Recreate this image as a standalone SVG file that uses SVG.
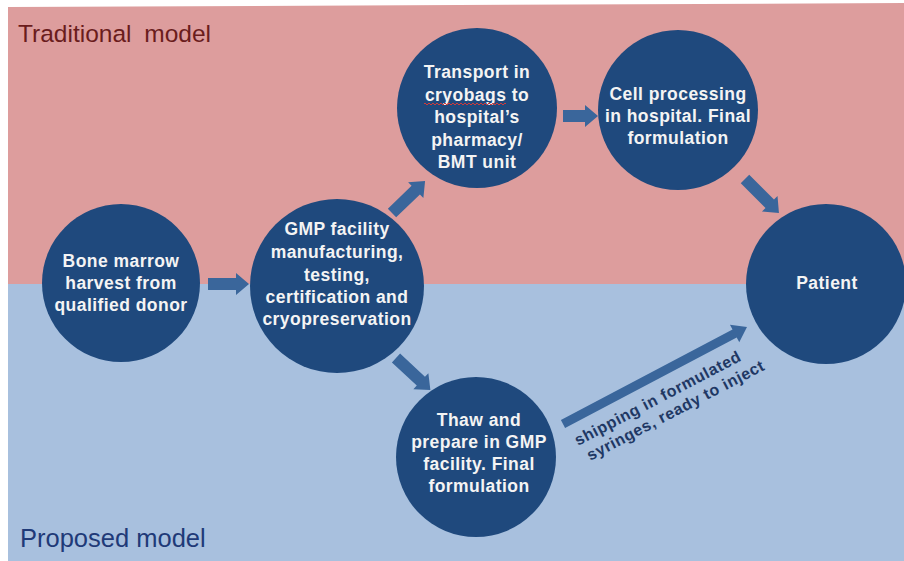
<svg xmlns="http://www.w3.org/2000/svg" width="904" height="561" viewBox="0 0 904 561">
  <defs>
    <style>
      .node { fill: #1f497d; }
      .ntext { font-family: "Liberation Sans", Arial, sans-serif; font-weight: bold; font-size: 17.5px; fill: #f4f4f4; text-anchor: middle; letter-spacing: 0.45px; }
      .arrow { fill: #3a669b; }
      .band-label { font-family: "Liberation Sans", Arial, sans-serif; }
      .ship { font-family: "Liberation Sans", Arial, sans-serif; font-weight: bold; font-size: 16px; fill: #1f3864; letter-spacing: 0.6px; }
    </style>
  </defs>

  <!-- backdrop: two model bands -->
  <rect x="0" y="0" width="904" height="561" fill="#ffffff"/>
  <polygon points="8,7 904,3 904,285 8,284" fill="#dd9d9d"/>
  <rect x="8" y="284" width="896" height="277" fill="#a8c0de"/>

  <text class="band-label" x="18" y="42" font-size="24.5" fill="#6a1c1c" word-spacing="6">Traditional model</text>
  <text class="band-label" x="20" y="547" font-size="25.5" fill="#1f3a78">Proposed model</text>

  <!-- connectors -->
  <g id="connectors">
    <path class="arrow" transform="translate(208,284)" d="M0,-6 H28 V-11 L41,0 L28,11 V6 H0 Z"/>
    <path class="arrow" transform="translate(392,213) rotate(-44)" d="M0,-6 H33 V-11 L46,0 L33,11 V6 H0 Z"/>
    <path class="arrow" transform="translate(563,116)" d="M0,-6 H22 V-11 L35,0 L22,11 V6 H0 Z"/>
    <path class="arrow" transform="translate(745,179) rotate(45)" d="M0,-6 H35 V-11 L48,0 L35,11 V6 H0 Z"/>
    <path class="arrow" transform="translate(396,358) rotate(43)" d="M0,-6 H34 V-11 L47,0 L34,11 V6 H0 Z"/>
    <path class="arrow" transform="translate(563,424) rotate(-27.8)" d="M0,-4.5 H194 V-10 L208,0 L194,10 V4.5 H0 Z"/>
    <g transform="translate(578,446) rotate(-27.6)">
      <text class="ship" x="0" y="0">shipping in formulated</text>
      <text class="ship" x="4" y="19">syringes, ready to inject</text>
    </g>
  </g>

  <!-- nodes -->
  <g id="bone-marrow">
    <circle class="node" cx="121" cy="283" r="79"/>
    <text class="ntext" x="121" y="267">Bone marrow</text>
    <text class="ntext" x="121" y="289">harvest from</text>
    <text class="ntext" x="121" y="311">qualified donor</text>
  </g>

  <g id="gmp-facility">
    <circle class="node" cx="337" cy="286" r="87"/>
    <text class="ntext" x="337" y="235">GMP facility</text>
    <text class="ntext" x="337" y="258">manufacturing,</text>
    <text class="ntext" x="337" y="281">testing,</text>
    <text class="ntext" x="337" y="303">certification and</text>
    <text class="ntext" x="337" y="325">cryopreservation</text>
  </g>

  <g id="transport">
    <circle class="node" cx="477" cy="108" r="80"/>
    <text class="ntext" x="477" y="78">Transport in</text>
    <text class="ntext" x="477" y="101">cryobags to</text>
    <text class="ntext" x="477" y="123">hospital’s</text>
    <text class="ntext" x="477" y="146">pharmacy/</text>
    <text class="ntext" x="477" y="168">BMT unit</text>
    <!-- spell-check squiggle under "cryobags" -->
    <path d="M424,104 q1,-2 2,0 t2,0 t2,0 t2,0 t2,0 t2,0 t2,0 t2,0 t2,0 t2,0 t2,0 t2,0 t2,0 t2,0 t2,0 t2,0 t2,0 t2,0 t2,0 t2,0 t2,0 t2,0 t2,0 t2,0 t2,0 t2,0 t2,0 t2,0 t2,0 t2,0 t2,0 t2,0 t2,0 t2,0 t2,0 t2,0 t2,0 t2,0 t2,0 t2,0 t2,0" fill="none" stroke="#d23a3a" stroke-width="1"/>
  </g>

  <g id="cell-processing">
    <circle class="node" cx="678" cy="110" r="80"/>
    <text class="ntext" x="678" y="100">Cell processing</text>
    <text class="ntext" x="678" y="122">in hospital. Final</text>
    <text class="ntext" x="678" y="144">formulation</text>
  </g>

  <g id="patient">
    <circle class="node" cx="826" cy="284" r="80"/>
    <text class="ntext" x="827" y="289">Patient</text>
  </g>

  <g id="thaw-prepare">
    <circle class="node" cx="476" cy="457" r="80"/>
    <text class="ntext" x="479" y="426">Thaw and</text>
    <text class="ntext" x="479" y="448">prepare in GMP</text>
    <text class="ntext" x="479" y="470">facility. Final</text>
    <text class="ntext" x="479" y="492">formulation</text>
  </g>
</svg>
